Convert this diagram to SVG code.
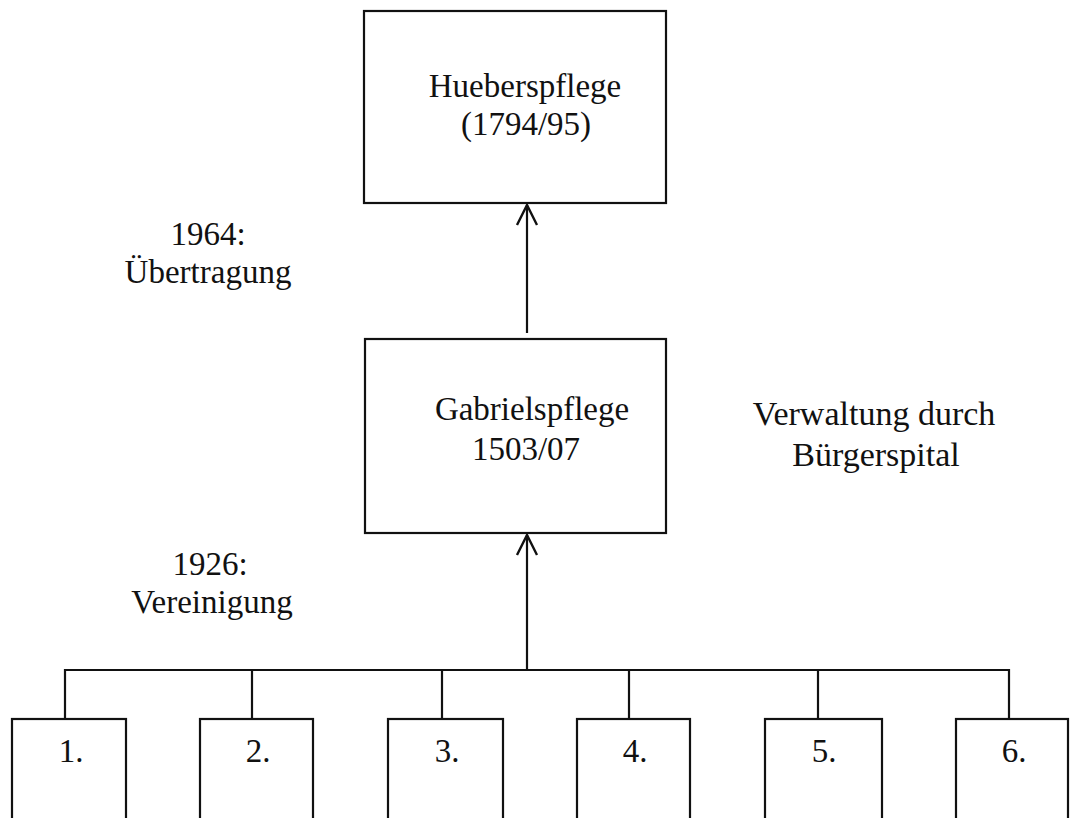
<svg xmlns="http://www.w3.org/2000/svg" width="1070" height="818" viewBox="0 0 1070 818">
<defs>
<style>
.box{fill:#fff;stroke:#111;stroke-width:2.2}
.t{font-family:"Liberation Serif","Times New Roman",serif;font-size:33px;fill:#111;text-anchor:middle}
.ln{stroke:#111;stroke-width:2.2;fill:none}
</style>
<marker id="arr" markerUnits="userSpaceOnUse" markerWidth="24" markerHeight="24" viewBox="-22 -12 24 24" refX="0" refY="0" orient="auto">
<path d="M-20,-10 L0,0 L-20,10" fill="none" stroke="#111" stroke-width="2.4"/>
</marker>
</defs>
<rect width="1070" height="818" fill="#fff"/>
<g id="connectors">
<line class="ln" x1="527" y1="333" x2="527" y2="205" marker-end="url(#arr)"/>
<line class="ln" x1="527" y1="670" x2="527" y2="535" marker-end="url(#arr)"/>
<polyline class="ln" points="65,719 65,670 1009,670 1009,719"/>
<line class="ln" x1="252" y1="670" x2="252" y2="719"/>
<line class="ln" x1="442" y1="670" x2="442" y2="719"/>
<line class="ln" x1="629" y1="670" x2="629" y2="719"/>
<line class="ln" x1="818" y1="670" x2="818" y2="719"/>
</g>
<g id="hueberspflege">
<rect class="box" x="364" y="11" width="302" height="192"/>
<text class="t" x="525" y="97">Hueberspflege</text>
<text class="t" x="526" y="135">(1794/95)</text>
</g>
<g id="gabrielspflege">
<rect class="box" x="365" y="339" width="301" height="194"/>
<text class="t" x="532" y="420">Gabrielspflege</text>
<text class="t" x="526" y="460">1503/07</text>
</g>
<g id="label-1964">
<text class="t" x="208" y="245">1964:</text>
<text class="t" x="208" y="283">Übertragung</text>
</g>
<g id="label-1926">
<text class="t" x="210" y="575">1926:</text>
<text class="t" x="212" y="613">Vereinigung</text>
</g>
<g id="label-verwaltung">
<text class="t" x="874" y="425" style="font-size:34px">Verwaltung durch</text>
<text class="t" x="876" y="466" style="font-size:34px">Bürgerspital</text>
</g>
<g id="n1"><rect class="box" x="12" y="719" width="114" height="120"/><text class="t" x="71" y="762">1.</text></g>
<g id="n2"><rect class="box" x="200" y="719" width="113" height="120"/><text class="t" x="258" y="762">2.</text></g>
<g id="n3"><rect class="box" x="388" y="719" width="115" height="120"/><text class="t" x="447" y="762">3.</text></g>
<g id="n4"><rect class="box" x="577" y="719" width="113" height="120"/><text class="t" x="635" y="762">4.</text></g>
<g id="n5"><rect class="box" x="765" y="719" width="117" height="120"/><text class="t" x="824" y="762">5.</text></g>
<g id="n6"><rect class="box" x="956" y="719" width="112" height="120"/><text class="t" x="1014" y="762">6.</text></g>
</svg>
